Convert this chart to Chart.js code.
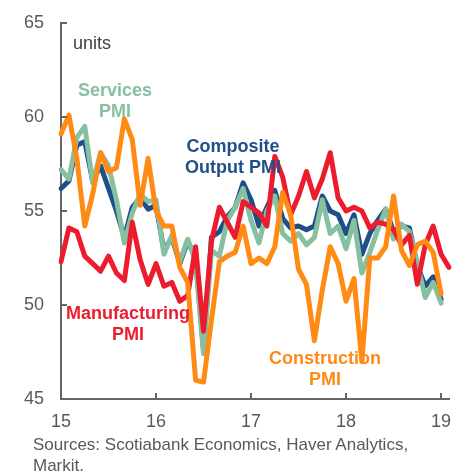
<!DOCTYPE html>
<html><head><meta charset="utf-8">
<script src="https://cdn.jsdelivr.net/npm/chart.js@4/dist/chart.umd.min.js"></script>
<style>
html,body{margin:0;padding:0;background:#fff;}
#wrap{position:relative;width:461px;height:471px;overflow:hidden;}
canvas{position:absolute;left:0;top:0;}
.t{position:absolute;font-family:"Liberation Sans",Arial,sans-serif;white-space:nowrap;}
.lbl{font-weight:bold;font-size:18px;line-height:21px;text-align:center;transform:translateX(-50%);}
</style></head><body>
<div id="wrap">
<canvas id="c" width="461" height="471"></canvas>
<div class="t" style="left:73px;top:33px;font-size:18px;line-height:21px;color:#404040;">units</div>
<div class="t lbl" style="left:115px;top:80px;color:#86C0A0;">Services<br>PMI</div>
<div class="t lbl" style="left:233px;top:136px;color:#1F4E89;">Composite<br>Output PMI</div>
<div class="t lbl" style="left:128px;top:303px;color:#EC1C2E;">Manufacturing<br>PMI</div>
<div class="t lbl" style="left:325px;top:348px;color:#FF8A14;">Construction<br>PMI</div>
<div class="t" style="left:33px;top:434px;font-size:17px;line-height:21px;color:#595959;">Sources: Scotiabank Economics, Haver Analytics,<br>Markit.</div>
</div>
<script>
// Monthly categories Jan 2015 .. Feb 2019
const months = [];
for (let yr = 15; yr <= 19; yr++) {
  for (let m = 1; m <= 12; m++) {
    if (yr === 19 && m > 2) break;
    months.push(m + '/' + yr);
  }
}
const yearTickLabels = ['15', '16', '17', '18', '19'];
const yTickValues = [45, 50, 55, 60, 65];

const servicesPMI = [
  57.2, 56.7, 58.9, 59.5, 56.5, 58.1, 57.4, 55.6, 53.3, 54.9, 55.9, 55.5,
  55.6, 52.7, 53.7, 52.3, 53.5, 52.3, 47.4, 52.9, 52.6, 54.5, 55.2, 56.2,
  54.5, 53.3, 55.0, 55.8, 53.8, 53.4, 53.8, 53.2, 53.6, 55.6, 53.8, 54.2,
  53.0, 54.5, 51.7, 52.8, 54.0, 55.1, 53.5, 54.3, 53.9, 52.2, 50.4, 51.2,
  50.1
];
const compositePMI = [
  56.2, 56.6, 58.5, 58.7, 56.6, 57.4, 56.2, 55.0, 53.6, 55.2, 55.7, 55.1,
  55.3, 52.9, 53.6, 52.2, 53.4, 52.5, 47.6, 53.6, 53.9, 54.7, 55.2, 56.5,
  55.6, 54.2, 55.2, 56.1, 54.6, 54.1, 54.2, 54.0, 54.2, 55.8, 55.0, 54.8,
  53.8, 54.8, 52.7, 53.8, 54.5, 55.1, 53.9, 54.2, 54.1, 52.1, 51.0, 51.5,
  50.3
];
const manufacturingPMI = [
  52.3, 54.1, 53.9, 52.6, 52.2, 51.8, 52.6, 51.7, 51.3, 54.4, 52.4, 51.1,
  52.2, 51.0, 51.2, 50.2, 50.5, 53.1, 48.6, 53.4, 55.2, 54.4, 53.6, 55.5,
  55.2, 54.9, 54.2, 57.9, 56.8, 54.8, 55.8, 57.1, 55.7, 56.7, 58.1, 55.7,
  55.0, 55.2, 55.0, 54.1, 54.4, 54.3, 54.0, 53.2, 53.7, 51.1, 53.2, 54.2,
  52.7, 52.0
];
const constructionPMI = [
  59.1, 60.1, 57.8, 54.2, 55.9, 58.1, 57.1, 57.3, 59.9, 58.8, 55.3, 57.8,
  55.0, 54.2, 54.2, 52.0, 51.2, 46.0, 45.9, 49.2, 52.3, 52.6, 52.8, 54.2,
  52.2, 52.5, 52.2, 53.1, 56.0, 54.8, 51.9, 51.1, 48.1, 50.8, 53.1, 52.2,
  50.2, 51.4, 47.0, 52.5, 52.5, 53.1, 55.8, 52.9, 52.1, 53.2, 53.4, 52.8,
  50.6
];

const FONT = "'Liberation Sans', Arial, sans-serif";
Chart.defaults.font.family = FONT;

const axisTicks = {
  id: 'axisTicks',
  afterDatasetsDraw(chart) {
    const { ctx, scales: { x, y }, chartArea: a } = chart;
    ctx.save();
    ctx.strokeStyle = '#666';
    ctx.lineWidth = 2;
    yTickValues.forEach(v => {
      const py = Math.round(y.getPixelForValue(v));
      ctx.beginPath(); ctx.moveTo(a.left, py); ctx.lineTo(a.left + 6, py); ctx.stroke();
    });
    months.forEach((m, i) => {
      if (m.startsWith('1/')) {
        const px = Math.round(x.getPixelForValue(i));
        ctx.beginPath(); ctx.moveTo(px, a.bottom); ctx.lineTo(px, a.bottom - 6); ctx.stroke();
      }
    });
    ctx.restore();
  }
};

const ds = (label, data, color, order) => ({
  label, data, borderColor: color, backgroundColor: color,
  borderWidth: 5, pointRadius: 0, tension: 0, fill: false,
  borderJoinStyle: 'round', borderCapStyle: 'round', order
});

new Chart(document.getElementById('c'), {
  type: 'line',
  data: {
    labels: months,
    datasets: [
      ds('Construction PMI', constructionPMI, '#FF8A14', 0),
      ds('Manufacturing PMI', manufacturingPMI, '#EC1C2E', 1),
      ds('Services PMI', servicesPMI, '#86C0A0', 2),
      ds('Composite Output PMI', compositePMI, '#1F4E89', 3)
    ]
  },
  options: {
    responsive: false,
    animation: false,
    devicePixelRatio: 1,
    layout: { padding: { left: 0, right: 12, top: 23, bottom: 32 } },
    plugins: { legend: { display: false }, tooltip: { enabled: false } },
    scales: {
      x: {
        type: 'category',
        offset: false,
        grid: { display: false },
        border: { display: true, color: '#666', width: 2 },
        ticks: {
          autoSkip: false, maxRotation: 0, minRotation: 0, padding: 4,
          color: '#595959', font: { size: 18, family: FONT },
          callback: (v, i) => months[i].startsWith('1/') ? yearTickLabels[Math.floor(i / 12)] : ''
        },
        afterFit: s => { s.height = 40; }
      },
      y: {
        min: 45, max: 65,
        grid: { display: false },
        border: { display: true, color: '#666', width: 2 },
        ticks: {
          stepSize: 5, padding: 9, color: '#595959',
          font: { size: 18, family: FONT }
        },
        afterFit: s => { s.width = 61; }
      }
    }
  },
  plugins: [axisTicks]
});
</script>
</body></html>
